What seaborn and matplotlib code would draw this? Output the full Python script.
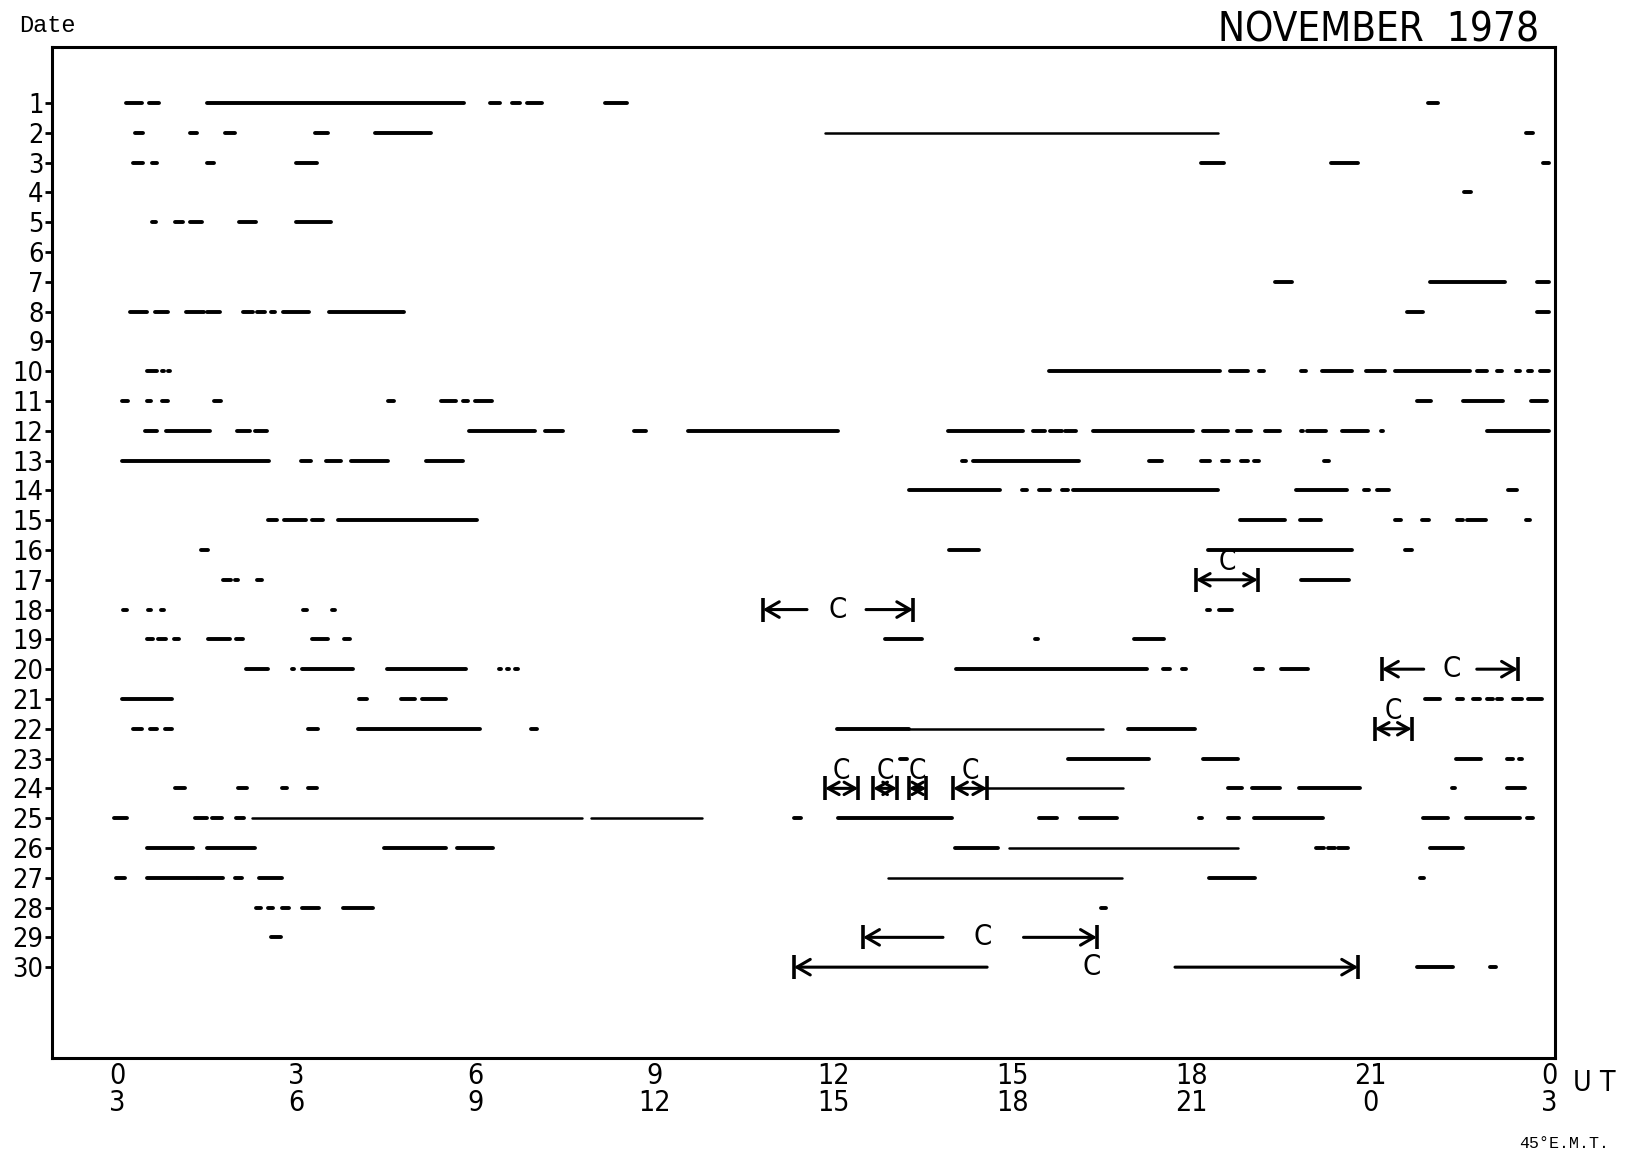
import matplotlib
matplotlib.use("Agg")
from matplotlib import pyplot as plt
from matplotlib import font_manager
import pandas as pd
import seaborn as sns

# observed intervals for each date of November 1978, UT hours (start, end)
day01 = [(0.14, 0.41), (0.53, 0.70), (1.50, 5.81), (6.24, 6.41), (6.61, 6.75), (6.86, 7.11), (8.17, 8.54), (21.97, 22.14)]
day02 = [(0.29, 0.42), (1.21, 1.33), (1.80, 1.97), (3.31, 3.53), (4.31, 5.25), (23.62, 23.74)]
day03 = [(0.26, 0.42), (0.57, 0.66), (1.50, 1.62), (2.99, 3.34), (18.17, 18.55), (20.35, 20.80), (23.90, 24.00)]
day04 = [(22.58, 22.70)]
day05 = [(0.57, 0.64), (0.96, 1.09), (1.22, 1.41), (2.04, 2.32), (2.99, 3.58)]
day06 = []
day07 = [(19.41, 19.69), (22.00, 23.27), (23.80, 24.00)]
day08 = [(0.21, 0.49), (0.63, 0.85), (1.15, 1.45), (1.50, 1.72), (2.10, 2.27), (2.33, 2.47), (2.57, 2.64),
         (2.77, 3.21), (3.55, 4.80), (21.62, 21.89), (23.80, 24.00)]
day09 = []
day10 = [(0.49, 0.66), (0.74, 0.78), (0.85, 0.88), (0.99, 1.00), (15.62, 18.49), (18.65, 18.96), (19.14, 19.22),
         (19.84, 19.93), (20.19, 20.70), (20.93, 21.25), (21.42, 22.68), (22.79, 22.96), (23.13, 23.21),
         (23.45, 23.52), (23.65, 23.72), (23.85, 24.00)]
day11 = [(0.07, 0.17), (0.50, 0.56), (0.75, 0.84), (1.62, 1.73), (4.53, 4.64), (5.43, 5.67), (5.80, 5.88),
         (5.99, 6.27), (21.79, 22.02), (22.56, 23.23), (23.70, 23.97)]
day12 = [(0.46, 0.66), (0.82, 1.55), (2.01, 2.22), (2.31, 2.50), (5.89, 7.00), (7.17, 7.47), (8.66, 8.86),
         (9.56, 12.08), (13.92, 15.18), (15.35, 15.55), (15.63, 15.83), (15.88, 16.07), (16.35, 18.03),
         (18.20, 18.62), (18.77, 19.00), (19.24, 19.49), (19.84, 19.87), (19.94, 20.26), (20.53, 20.97),
         (21.18, 21.21), (22.96, 24.00)]
day13 = [(0.07, 2.54), (3.08, 3.24), (3.49, 3.74), (3.91, 4.53), (5.17, 5.79), (14.16, 14.23), (14.34, 16.12),
         (17.29, 17.51), (18.17, 18.32), (18.52, 18.63), (18.84, 18.96), (19.05, 19.14), (20.23, 20.31)]
day14 = [(13.27, 14.79), (15.16, 15.25), (15.45, 15.63), (15.83, 15.93), (16.02, 18.45), (19.76, 20.61),
         (20.90, 20.98), (21.12, 21.32), (23.31, 23.46)]
day15 = [(2.52, 2.67), (2.79, 3.16), (3.26, 3.44), (3.70, 6.02), (18.82, 19.57), (19.82, 20.18), (21.42, 21.52),
         (21.87, 21.99), (22.46, 22.56), (22.62, 22.95), (23.62, 23.68)]
day16 = [(1.40, 1.52), (13.94, 14.45), (18.29, 20.70), (21.58, 21.70)]
day17 = [(1.76, 1.90), (1.97, 2.02), (2.33, 2.43), (19.84, 20.65)]
day18 = [(0.09, 0.15), (0.51, 0.56), (0.73, 0.78), (3.11, 3.17), (3.60, 3.65), (18.27, 18.32), (18.47, 18.68)]
day19 = [(0.49, 0.59), (0.68, 0.82), (0.94, 1.03), (1.51, 1.88), (1.98, 2.10), (3.26, 3.53), (3.80, 3.90),
         (12.87, 13.49), (15.38, 15.43), (17.04, 17.54)]
day20 = [(2.15, 2.52), (2.92, 2.96), (3.09, 3.95), (4.51, 5.84), (6.40, 6.43), (6.53, 6.56), (6.66, 6.71),
         (14.05, 17.26), (17.53, 17.64), (17.85, 17.91), (19.07, 19.21), (19.51, 19.96)]
day21 = [(0.07, 0.92), (4.05, 4.18), (4.75, 4.99), (5.11, 5.51), (21.92, 22.17), (22.46, 22.56), (22.73, 22.85),
         (22.96, 23.06), (23.13, 23.21), (23.40, 23.55), (23.65, 23.88)]
day22 = [(0.26, 0.41), (0.54, 0.66), (0.79, 0.91), (3.19, 3.36), (4.03, 6.08), (6.93, 7.03), (12.07, 13.27),
         (16.94, 18.07)]
day23 = [(13.12, 13.24), (15.93, 17.29), (18.20, 18.79), (22.44, 22.86), (23.29, 23.40), (23.50, 23.55)]
day24 = [(0.96, 1.13), (2.02, 2.17), (2.75, 2.84), (3.19, 3.34), (18.62, 18.85), (19.02, 19.49), (19.81, 20.83),
         (22.38, 22.43), (23.29, 23.60)]
day25 = [(-0.06, 0.16), (1.30, 1.50), (1.58, 1.75), (1.98, 2.12), (11.34, 11.46), (12.08, 13.99), (15.45, 15.75),
         (16.14, 16.76), (18.13, 18.18), (18.62, 18.80), (19.05, 20.21), (21.89, 22.31), (22.61, 23.52),
         (23.63, 23.74)]
day26 = [(0.49, 1.26), (1.50, 2.30), (4.47, 5.51), (5.69, 6.29), (14.04, 14.76), (20.09, 20.22), (20.30, 20.41),
         (20.47, 20.63), (22.00, 22.56)]
day27 = [(-0.03, 0.12), (0.49, 1.33), (1.35, 1.77), (1.97, 2.09), (2.37, 2.76), (18.30, 19.07), (21.83, 21.90)]
day28 = [(2.32, 2.40), (2.52, 2.60), (2.76, 2.87), (3.09, 3.38), (3.78, 4.28), (16.49, 16.57)]
day29 = [(2.57, 2.74)]
day30 = [(21.78, 22.39), (23.01, 23.11)]

days = [day01, day02, day03, day04, day05, day06, day07, day08, day09, day10,
        day11, day12, day13, day14, day15, day16, day17, day18, day19, day20,
        day21, day22, day23, day24, day25, day26, day27, day28, day29, day30]

# thinner traces: (date, start, end)
thin = [(2, 11.86, 18.45), (22, 13.27, 16.52), (24, 14.50, 16.86), (25, 2.25, 7.79), (25, 7.94, 9.80),
        (26, 14.95, 18.79), (27, 12.91, 16.84)]

# "C" intervals drawn as |<->| with the letter above
c_full_date = [17, 22, 24, 24, 24, 24]
c_full_start = [18.08, 21.08, 11.86, 12.67, 13.27, 14.01]
c_full_end = [19.12, 21.70, 12.42, 13.07, 13.56, 14.58]

# "C" intervals drawn as |<-- C -->| with the letter in the gap
c_split_date = [18, 20, 29, 30]
c_split_left = [10.82, 21.20, 12.50, 11.34]
c_split_left_in = [11.56, 21.90, 13.84, 14.58]
c_split_label = [12.08, 22.36, 14.51, 16.34]
c_split_right_in = [12.55, 22.79, 15.19, 17.73]
c_split_right = [13.34, 23.48, 16.42, 20.80]

ut_ticks = [0, 3, 6, 9, 12, 15, 18, 21, 24]
ut_labels = ["0", "3", "6", "9", "12", "15", "18", "21", "0"]
emt_labels = ["3", "6", "9", "12", "15", "18", "21", "0", "3"]

fonts = font_manager.fontManager.ttflist
names = {f.name for f in fonts}
has_cond = any(f.name == "DejaVu Sans" and f.stretch == "condensed" for f in fonts)
LETTER = "Liberation Sans Narrow" if "Liberation Sans Narrow" in names else "DejaVu Sans"
STRETCH = "condensed" if (LETTER == "DejaVu Sans" and has_cond) else "normal"
TITLE_SIZE = 29 if (LETTER != "DejaVu Sans" or has_cond) else 26
MONO = "Liberation Mono" if "Liberation Mono" in names else "DejaVu Sans Mono"

sns.set_theme(style="white")
plt.rcParams["font.family"] = [LETTER, "DejaVu Sans"]
plt.rcParams["font.stretch"] = STRETCH
plt.rcParams["text.color"] = "black"

recs = []
uid = 0
for d, segs in enumerate(days, start=1):
    for s, e in segs:
        recs.append((d, s, uid))
        recs.append((d, e, uid))
        uid += 1
df = pd.DataFrame(recs, columns=["date", "hour", "seg"])

recs = []
for i, (d, s, e) in enumerate(thin):
    recs.append((d, s, i))
    recs.append((d, e, i))
df_thin = pd.DataFrame(recs, columns=["date", "hour", "seg"])

fig = plt.figure(figsize=(16.34, 11.6), dpi=100)
ax = fig.add_axes([0.0318, 0.0879, 0.9198, 0.8716])

sns.lineplot(data=df, x="hour", y="date", units="seg", estimator=None, sort=False,
             color="black", lw=2.8, solid_capstyle="round", legend=False, ax=ax)
sns.lineplot(data=df_thin, x="hour", y="date", units="seg", estimator=None, sort=False,
             color="black", lw=1.8, solid_capstyle="round", legend=False, ax=ax)

arrow_kw = dict(color="black", lw=2.2, shrinkA=0, shrinkB=0, mutation_scale=16)
for d, s, e in zip(c_full_date, c_full_start, c_full_end):
    ax.annotate("", xy=(e, d), xytext=(s, d),
                arrowprops=dict(arrowstyle="<->,head_length=0.5,head_width=0.28", **arrow_kw))
    ax.plot([s, e], [d, d], ls="none", marker="|", ms=17, mew=2.6, color="black")
    ax.text((s + e) / 2, d - 0.12, "C", ha="center", va="bottom", fontsize=20, color="black")

for d, l, li, c, ri, r in zip(c_split_date, c_split_left, c_split_left_in, c_split_label,
                              c_split_right_in, c_split_right):
    ax.annotate("", xy=(l, d), xytext=(li, d),
                arrowprops=dict(arrowstyle="->,head_length=0.6,head_width=0.35", **arrow_kw))
    ax.annotate("", xy=(r, d), xytext=(ri, d),
                arrowprops=dict(arrowstyle="->,head_length=0.6,head_width=0.35", **arrow_kw))
    ax.plot([l, r], [d, d], ls="none", marker="|", ms=17, mew=2.6, color="black")
    ax.text(c, d, "C", ha="center", va="center", fontsize=21, color="black")

ax.set_xlim(-1.10, 24.1)
ax.set_ylim(33.05, -0.88)
ax.set_xlabel("")
ax.set_ylabel("")

ax.set_yticks(range(1, 31))
ax.set_yticklabels([str(d) for d in range(1, 31)], fontsize=19.5)
ax.set_xticks(ut_ticks)
ax.set_xticklabels([f"{u}\n{m}" for u, m in zip(ut_labels, emt_labels)], fontsize=20.5)
for lbl in ax.get_xticklabels():
    lbl.set_linespacing(0.95)
ax.tick_params(axis="y", direction="out", length=5, width=2, pad=1, left=True, colors="black")
ax.tick_params(axis="x", length=0, pad=3, colors="black")

for side in ax.spines.values():
    side.set_visible(True)
    side.set_linewidth(2.2)
    side.set_color("black")

fig.text(19 / 1634, 1 - 26 / 1160, "Date", family=MONO, fontsize=17, va="center", ha="left")
fig.text(1218 / 1634, 1 - 31 / 1160, "NOVEMBER  1978", fontsize=TITLE_SIZE, va="center", ha="left")
fig.text(1573 / 1634, 1 - 1083 / 1160, "U T", fontsize=20.5, va="center", ha="left")
fig.text(1519 / 1634, 1 - 1144 / 1160, "45°E.M.T.", family=MONO, fontsize=12, va="center", ha="left")

fig.savefig("out.png", dpi=100, facecolor="white")
